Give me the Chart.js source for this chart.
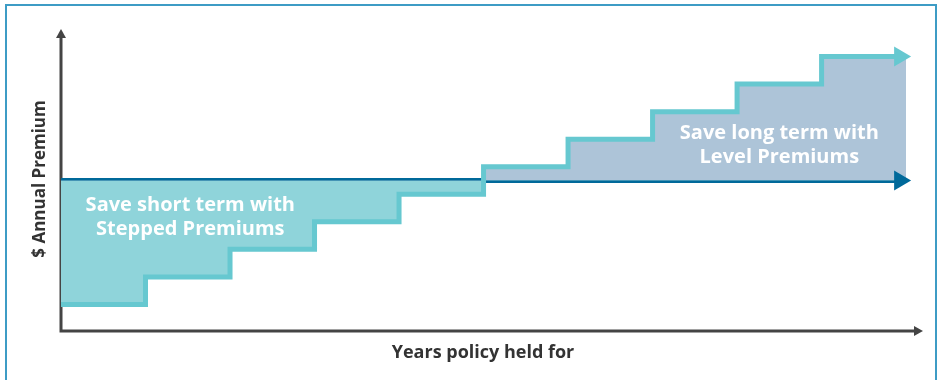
<!DOCTYPE html>
<html>
<head>
<meta charset="utf-8">
<script src="https://cdn.jsdelivr.net/npm/chart.js@4.4.0/dist/chart.umd.min.js"></script>
<style>
  body { margin: 0; background: #fff; }
  #wrap { position: relative; width: 940px; height: 380px; overflow: hidden; }
  #frame {
    position: absolute; left: 5px; top: 4px; width: 928px; height: 400px;
    border: 2px solid #3d9cc5; border-bottom: none;
  }
  canvas { position: absolute; left: 0; top: 0; }
</style>
</head>
<body>
<div id="wrap">
  <div id="frame"></div>
  <canvas id="chart" width="940" height="380"></canvas>
</div>
<script>
// Data
const years = [0, 1, 2, 3, 4, 5, 6, 7, 8, 9, 10];
const steppedPremium = [1, 2, 3, 4, 5, 6, 7, 8, 9, 10, 10];
const levelPremium = [5.5, 5.5];
const levelYears = [0, 10];
const xAxisTitle = 'Years policy held for';
const yAxisTitle = '$ Annual Premium';
const shortTermLabel = ['Save short term with', 'Stepped Premiums'];
const longTermLabel = ['Save long term with', 'Level Premiums'];

const FONT = '"Open Sans", "Noto Sans", sans-serif';

function arrow(ctx, tipX, tipY, dir, len, half, color) {
    ctx.fillStyle = color;
    ctx.beginPath();
    if (dir === 'right') {
        ctx.moveTo(tipX, tipY);
        ctx.lineTo(tipX - len, tipY - half);
        ctx.lineTo(tipX - len, tipY + half);
    } else {
        ctx.moveTo(tipX, tipY);
        ctx.lineTo(tipX - half, tipY + len);
        ctx.lineTo(tipX + half, tipY + len);
    }
    ctx.closePath();
    ctx.fill();
}

// Axes, arrows and labels
const decorPlugin = {
    id: 'decor',
    beforeDatasetsDraw(chart) {
        const { ctx, chartArea: a } = chart;
        ctx.save();
        ctx.strokeStyle = '#444';
        ctx.lineWidth = 3;
        ctx.beginPath();
        ctx.moveTo(a.left, a.top + 8);
        ctx.lineTo(a.left, a.bottom - 1);
        ctx.lineTo(a.right - 8, a.bottom - 1);
        ctx.stroke();
        arrow(ctx, a.left, a.top, 'up', 9, 5, '#444');
        arrow(ctx, a.right, a.bottom - 1, 'right', 9, 5, '#444');
        ctx.restore();
    },
    afterDatasetsDraw(chart) {
        const { ctx, scales: { x, y } } = chart;
        ctx.save();
        const endX = x.getPixelForValue(years[years.length - 1]);
        arrow(ctx, endX + 5, y.getPixelForValue(steppedPremium[steppedPremium.length - 1]), 'right', 17, 10, '#66c8d0');
        arrow(ctx, endX + 5, y.getPixelForValue(levelPremium[1]), 'right', 17, 10, '#00699a');

        ctx.fillStyle = '#fff';
        ctx.textAlign = 'center';
        ctx.textBaseline = 'middle';
        ctx.font = 'bold 20px ' + FONT;
        const sx = x.getPixelForValue(1.53);
        ctx.fillText(shortTermLabel[0], sx, 205);
        ctx.fillText(shortTermLabel[1], sx, 229);
        const lx = x.getPixelForValue(8.5);
        ctx.fillText(longTermLabel[0], lx, 133);
        ctx.fillText(longTermLabel[1], lx, 157);

        ctx.fillStyle = '#333';
        ctx.font = 'bold 18px ' + FONT;
        ctx.fillText(xAxisTitle, 483, 353);
        ctx.font = 'bold 17px ' + FONT;
        ctx.translate(40, 179);
        ctx.rotate(-Math.PI / 2);
        ctx.fillText(yAxisTitle, 0, 0);
        ctx.restore();
    }
};

new Chart(document.getElementById('chart'), {
    type: 'line',
    data: {
        datasets: [
            {
                label: 'Stepped',
                data: years.map((yr, i) => ({ x: yr, y: steppedPremium[i] })),
                stepped: 'before',
                borderColor: '#66c8d0',
                borderWidth: 5,
                pointRadius: 0,
                fill: { target: 1, above: '#adc4d8', below: '#8fd4da' }
            },
            {
                label: 'Level',
                data: levelYears.map((yr, i) => ({ x: yr, y: levelPremium[i] })),
                borderColor: '#00699a',
                borderWidth: 5,
                pointRadius: 0,
                fill: false
            }
        ]
    },
    options: {
        responsive: false,
        animation: false,
        layout: { padding: { left: 61, right: 17, top: 29, bottom: 48 } },
        scales: {
            x: { type: 'linear', min: 0, max: 10.2, display: false },
            y: { min: 0, max: 11, display: false }
        },
        plugins: {
            legend: { display: false },
            tooltip: { enabled: false }
        }
    },
    plugins: [decorPlugin]
});
</script>
</body>
</html>
